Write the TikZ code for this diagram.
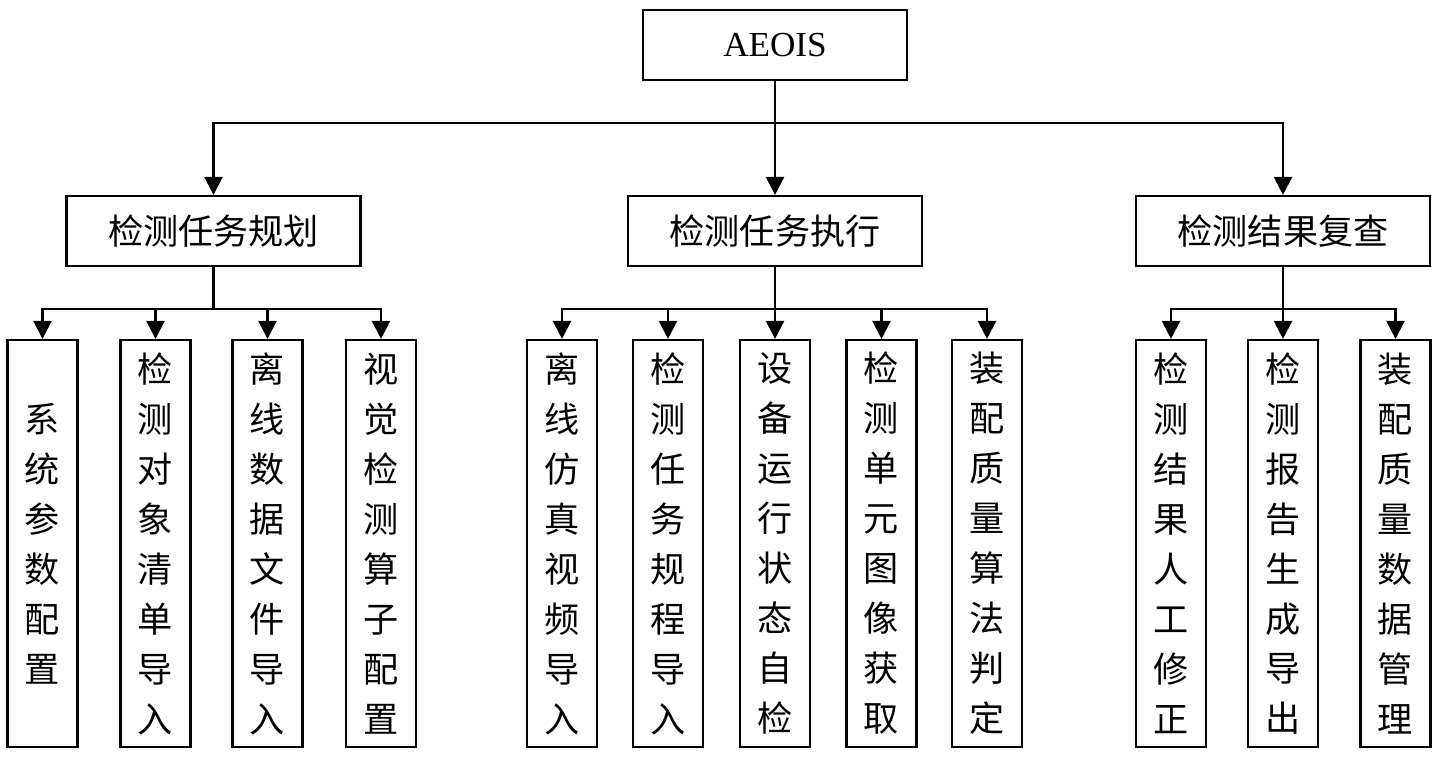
\documentclass[tikz,border=0pt]{standalone}
\usepackage{fontspec}
\setmainfont{Liberation Serif}
\newfontfamily\cjk{Noto Sans CJK SC}
\usepackage{tikz}
\usetikzlibrary{arrows.meta}
\usetikzlibrary{positioning}
\tikzset{
    rootbox/.style={
      rectangle,
      draw=black, line width=1.2pt,
      minimum width=5.28cm,
      minimum height=1.4cm,
      inner sep=2pt,
      font=\fontsize{20}{24}\selectfont,
      text centered,
    },
    groupbox/.style={
      rootbox,
      minimum width=5.88cm,
      font=\cjk\fontsize{20}{24}\selectfont,
    },
    leafbox/.style={
      rectangle,
      draw=black, line width=1.2pt,
      minimum width=1.4cm,
      minimum height=8.14cm,
      inner sep=0pt,
      align=center,
      font=\cjk\fontsize{20}{28.45}\selectfont,
    },
}

\begin{document}
\begin{tikzpicture}[>={Triangle[length=3.6mm,width=3.6mm]}, line width=1.3pt]

    \useasboundingbox (0,0) rectangle (28.78,15.16);

    \node[rootbox] (AEOIS) at (15.5,14.26) {AEOIS};

    \node[groupbox] (plan)   at (4.27,10.54)  {检测任务规划};
    \node[groupbox] (exec)   at (15.5,10.54)  {检测任务执行};
    \node[groupbox] (review) at (25.66,10.54) {检测结果复查};

    % planning
    \node[leafbox] (plan1) at (0.85,4.29) {系\\统\\参\\数\\配\\置};
    \node[leafbox] (plan2) at (3.11,4.29) {检\\测\\对\\象\\清\\单\\导\\入};
    \node[leafbox] (plan3) at (5.35,4.29) {离\\线\\数\\据\\文\\件\\导\\入};
    \node[leafbox] (plan4) at (7.62,4.29) {视\\觉\\检\\测\\算\\子\\配\\置};

    % execution
    \node[leafbox] (exec1) at (11.24,4.29) {离\\线\\仿\\真\\视\\频\\导\\入};
    \node[leafbox] (exec2) at (13.36,4.29) {检\\测\\任\\务\\规\\程\\导\\入};
    \node[leafbox] (exec3) at (15.5,4.29)  {设\\备\\运\\行\\状\\态\\自\\检};
    \node[leafbox] (exec4) at (17.63,4.29) {检\\测\\单\\元\\图\\像\\获\\取};
    \node[leafbox] (exec5) at (19.74,4.29) {装\\配\\质\\量\\算\\法\\判\\定};

    % review
    \node[leafbox] (review1) at (23.42,4.29) {检\\测\\结\\果\\人\\工\\修\\正};
    \node[leafbox] (review2) at (25.66,4.29) {检\\测\\报\\告\\生\\成\\导\\出};
    \node[leafbox] (review3) at (27.91,4.29) {装\\配\\质\\量\\数\\据\\管\\理};

    \coordinate (rootfork)   at (15.5,12.7);
    \coordinate (planfork)   at (4.27,8.98);
    \coordinate (execfork)   at (15.5,8.98);
    \coordinate (reviewfork) at (25.66,8.98);

    \draw[line width=1.6pt] (AEOIS) -- (rootfork);
    \draw[->] (rootfork) -| (plan);
    \draw[->] (rootfork) -- (exec);
    \draw[->] (rootfork) -| (review);

    \draw[line width=1.6pt] (plan) -- (planfork);
    \draw[line width=1.6pt] (exec) -- (execfork);
    \draw (review) -- (reviewfork);

    \foreach \leaf in {plan1,plan2,plan3,plan4}
      \draw[->] (planfork) -| (\leaf);
    \foreach \leaf in {exec1,exec2,exec3,exec4,exec5}
      \draw[->] (execfork) -| (\leaf);
    \foreach \leaf in {review1,review2,review3}
      \draw[->] (reviewfork) -| (\leaf);

\end{tikzpicture}
\end{document}
